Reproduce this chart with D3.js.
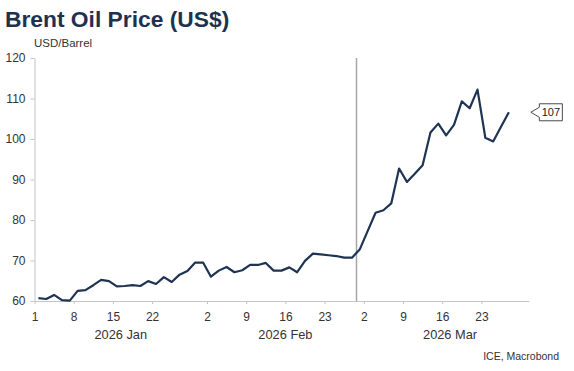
<!DOCTYPE html>
<html>
<head>
<meta charset="utf-8">
<script src="https://cdn.jsdelivr.net/npm/d3@7"></script>
<style>
  body { margin: 0; background: #fff; }
  svg { display: block; font-family: "Liberation Sans", Arial, sans-serif; }
  .axis path, .axis line { stroke: #c4c4c4; }
  .axis text { fill: #333; font-size: 12px; }
</style>
</head>
<body>
<div id="SVGContainer"></div>
<script>
// brent daily closes, one per business day from 2026-01-01
const startDate = "2026-01-01";
const janPrices = [60.7, 60.5, 61.5, 60.2, 60.1, 62.5, 62.7, 63.9, 65.2, 64.9, 63.6,
  63.7, 63.9, 63.7, 64.9, 64.2, 65.9, 64.7, 66.5, 67.4, 69.5, 69.5];
const febPrices = [66.0, 67.5, 68.4, 67.1, 67.6, 68.9, 68.9, 69.4, 67.5, 67.5,
  68.3, 67.1, 69.9, 71.7, 71.5, 71.3, 71.1, 70.7, 70.7, 72.8];
const marPrices = [77.3, 81.8, 82.4, 84.1, 92.7, 89.4, 91.4, 93.5, 101.6, 103.8,
  100.9, 103.5, 109.3, 107.6, 112.2, 100.3, 99.4, 103.0, 106.6];

const tickDates = ["2026-01-01", "2026-01-08", "2026-01-15", "2026-01-22",
  "2026-02-02", "2026-02-09", "2026-02-16", "2026-02-23",
  "2026-03-02", "2026-03-09", "2026-03-16", "2026-03-23"];
const months = [
  {label: "2026 Jan", from: "2026-01-01", to: "2026-02-01"},
  {label: "2026 Feb", from: "2026-02-01", to: "2026-03-01"},
  {label: "2026 Mar", from: "2026-03-01", to: "2026-04-01"}
];
const yTicks = [60, 70, 80, 90, 100, 110, 120];
const eventDate = "2026-02-27";

const parse = d3.utcParse("%Y-%m-%d");

// business day calendar, weekends dropped
const calendar = d3.utcDay.range(parse(startDate), parse("2026-04-01"))
  .filter(d => d.getUTCDay() % 6 !== 0);
const slot = s => d3.bisectLeft(calendar, parse(s));

const prices = janPrices.concat(febPrices, marPrices);
const data = prices.map((v, i) => ({i: i, v: v}));

const svg = d3.select("#SVGContainer")
  .append("svg")
  .attr("width", 574)
  .attr("height", 371);

const x = d3.scaleLinear()
  .domain([0, calendar.length])
  .range([34.5, 536.3]);

const y = d3.scaleLinear()
  .domain([60, 120])
  .range([301, 58]);

//title
svg.append("text")
  .attr("x", 5)
  .attr("y", 27)
  .attr("font-size", 22.8)
  .attr("font-weight", "bold")
  .attr("fill", "#1e3250")
  .text("Brent Oil Price (US$)");

svg.append("text")
  .attr("x", 34)
  .attr("y", 47)
  .attr("font-size", 11.5)
  .attr("fill", "#333")
  .text("USD/Barrel");

//y axis
svg.append("g")
  .attr("class", "axis")
  .attr("transform", "translate(34.5,0)")
  .call(d3.axisLeft(y).tickValues(yTicks).tickSize(4).tickSizeOuter(0).tickPadding(5))
  .call(g => g.selectAll("text").attr("font-size", 12.3));

//x axis, ticks sit at the start of each day slot
const xAxis = svg.append("g")
  .attr("class", "axis")
  .attr("transform", "translate(0,301)")
  .call(d3.axisBottom(x)
    .tickValues(tickDates.map(slot))
    .tickFormat(i => calendar[i].getUTCDate())
    .tickSize(3)
    .tickPadding(8)
    .tickSizeOuter(0));
xAxis.select(".domain")
  .attr("d", "M" + x(0) + ",0.5H" + x(calendar.length - 0.9));

svg.selectAll("text.month")
  .data(months)
  .enter()
  .append("text")
    .attr("class", "month")
    .attr("x", d => (x(slot(d.from)) + x(slot(d.to))) / 2)
    .attr("y", 339)
    .attr("text-anchor", "middle")
    .attr("font-size", 12.8)
    .attr("fill", "#333")
    .text(d => d.label);

//event marker
svg.append("line")
  .attr("x1", Math.round(x(slot(eventDate))) + 0.5)
  .attr("x2", Math.round(x(slot(eventDate))) + 0.5)
  .attr("y1", y(120))
  .attr("y2", y(60))
  .attr("stroke", "#a6a6a6")
  .attr("stroke-width", 1.5);

//price line, points at the middle of each slot
const line = d3.line()
  .x(d => x(d.i + 0.5))
  .y(d => y(d.v));

svg.append("path")
  .datum(data)
  .attr("d", line)
  .attr("fill", "none")
  .attr("stroke", "#1f3352")
  .attr("stroke-width", 2.2)
  .attr("stroke-linejoin", "round");

//last value tag
const last = data[data.length - 1];
const tx = x(last.i + 0.5) + 22;
const ty = y(last.v);
svg.append("path")
  .attr("d", `M${tx},${ty}L${tx + 8.5},${ty - 5}V${ty - 8.5}H${tx + 31.5}V${ty + 8.5}H${tx + 8.5}V${ty + 5}Z`)
  .attr("fill", "#fff")
  .attr("stroke", "#4a4a4a")
  .attr("stroke-width", 1);
svg.append("text")
  .attr("x", tx + 20)
  .attr("y", ty + 4)
  .attr("text-anchor", "middle")
  .attr("font-size", 11)
  .attr("fill", "#222")
  .text(d3.format(".0f")(last.v));

//source
svg.append("text")
  .attr("x", 559)
  .attr("y", 360)
  .attr("text-anchor", "end")
  .attr("font-size", 10.5)
  .attr("fill", "#333")
  .text("ICE, Macrobond");
</script>
</body>
</html>
